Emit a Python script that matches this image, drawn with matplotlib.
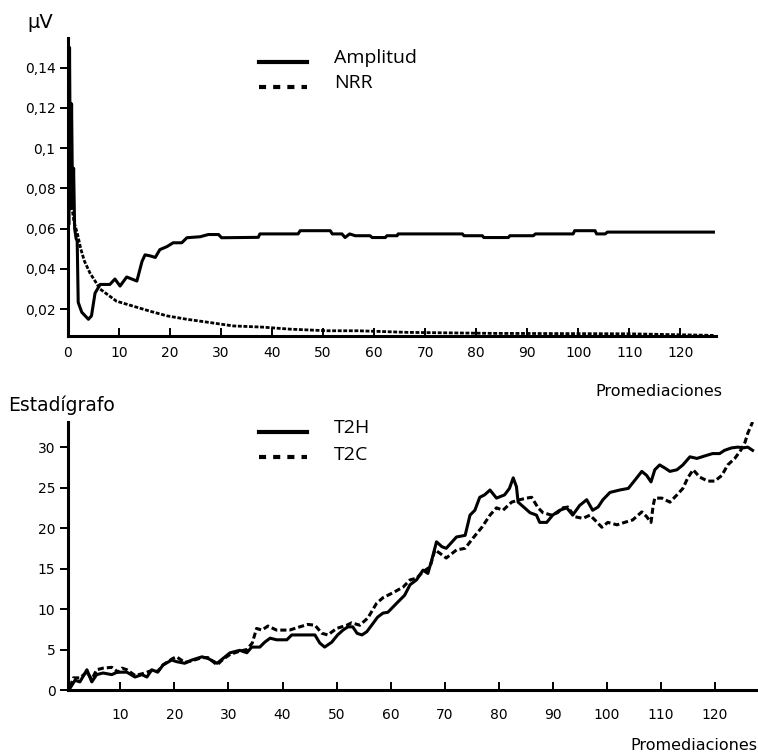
import matplotlib.pyplot as plt
from matplotlib.lines import Line2D

# Datos: panel superior (Amplitud y NRR en microvoltios)
amp_x = [0, 0.15, 0.3, 0.5, 0.7, 0.9, 1.1, 1.3, 1.6, 1.8, 2.0, 2.7, 4.0, 4.6, 5.3,
         6.3, 8.2, 9.2, 10.2, 11.5, 12.5, 13.5, 14.5, 15.1, 16.1, 17.1, 18.0,
         19.4, 20.6, 22.3, 23.3, 25.9, 27.5, 29.5, 30.1, 37.3, 37.6, 45.1, 45.5,
         51.4, 51.8, 53.7, 54.3, 55.2, 56.3, 59.2, 59.6, 62.2, 62.5, 64.5, 64.7,
         77.3, 77.6, 81.2, 81.5, 86.3, 86.6, 91.2, 91.6, 99.0, 99.3, 103.3, 103.6,
         105.3, 105.7, 126.5]
amp_y = [0.155, 0.062, 0.150, 0.070, 0.122, 0.072, 0.090, 0.060, 0.055, 0.054,
         0.0234, 0.0185, 0.015, 0.0167, 0.028, 0.0323, 0.0323, 0.035, 0.0315,
         0.036, 0.035, 0.034, 0.0437, 0.047, 0.0465, 0.0457, 0.0496, 0.0511,
         0.053, 0.053, 0.0555, 0.056, 0.0571, 0.0571, 0.0555, 0.0557, 0.0574,
         0.0574, 0.059, 0.059, 0.0574, 0.0574, 0.0556, 0.0574, 0.0565, 0.0565,
         0.0556, 0.0556, 0.0565, 0.0565, 0.0574, 0.0574, 0.0565, 0.0565, 0.0556,
         0.0556, 0.0565, 0.0565, 0.0574, 0.0574, 0.059, 0.059, 0.0574, 0.0574,
         0.0583, 0.0583]

nrr_x = [0.4, 0.8, 1.2, 1.8, 2.5, 3.2, 4.3, 6.3, 9.5, 12.8, 16.1, 19.4, 23.3,
         27.2, 32.4, 38.2, 43.5, 50.8, 56.7, 60.6, 66.5, 83.3, 109.6, 126.5]
nrr_y = [0.085, 0.070, 0.063, 0.058, 0.050, 0.044, 0.038, 0.030, 0.024, 0.0215,
         0.019, 0.0167, 0.015, 0.0136, 0.0117, 0.0111, 0.0101, 0.0093, 0.0093,
         0.009, 0.0085, 0.008, 0.0078, 0.0070]

top_yticks = [0.02, 0.04, 0.06, 0.08, 0.10, 0.12, 0.14]
top_ylabels = ['0,02', '0,04', '0,06', '0,08', '0,1', '0,12', '0,14']
top_xticks = [0, 10, 20, 30, 40, 50, 60, 70, 80, 90, 100, 110, 120]

# Datos: panel inferior (estadigrafos T2H y T2C)
t2h_x = [0.7, 1.6, 2.5, 3.8, 4.7, 5.6, 6.8, 8.4, 9.4, 11.2, 12.7, 14.0, 14.9,
         15.8, 16.9, 17.9, 19.5, 20.4, 21.9, 23.2, 25.1, 26.2, 27.9, 29.0, 30.3,
         32.1, 33.4, 34.3, 35.8, 36.7, 37.7, 38.9, 40.8, 41.7, 46.0, 46.9, 47.8,
         49.1, 50.2, 51.2, 52.1, 53.0, 53.8, 54.7, 55.6, 56.5, 57.6, 58.6, 59.5,
         61.1, 62.6, 63.6, 64.8, 66.0, 66.9, 67.6, 68.5, 69.5, 70.3, 72.2, 73.8,
         74.7, 75.6, 76.5, 77.4, 78.4, 79.6, 81.1, 82.0, 82.7, 83.3, 83.6, 84.8,
         85.8, 87.0, 87.6, 88.9, 90.0, 91.3, 92.6, 93.7, 95.0, 96.3, 97.4, 98.4,
         99.3, 100.6, 102.4, 104.0, 105.2, 106.5, 107.4, 108.2, 108.9, 109.8,
         110.8, 111.7, 113.0, 114.1, 115.4, 116.7, 118.1, 119.6, 120.9, 121.8,
         123.1, 124.3, 125.2, 126.1, 127.0]
t2h_y = [0.25, 1.2, 1.0, 2.5, 1.0, 1.9, 2.1, 1.9, 2.2, 2.2, 1.6, 1.9, 1.6,
         2.5, 2.2, 3.1, 3.7, 3.5, 3.3, 3.7, 4.1, 3.9, 3.3, 3.9, 4.6,
         4.9, 4.6, 5.3, 5.3, 5.9, 6.4, 6.2, 6.2, 6.8, 6.8, 5.8, 5.3,
         5.9, 6.8, 7.4, 7.8, 7.8, 7.0, 6.8, 7.2, 8.0, 9.0, 9.5, 9.6,
         10.7, 11.7, 13.0, 13.6, 14.8, 14.4, 16.0, 18.3, 17.7, 17.5, 18.9, 19.1,
         21.6, 22.2, 23.8, 24.1, 24.7, 23.7, 24.1, 24.9, 26.2, 25.1, 23.2, 22.5,
         21.9, 21.6, 20.7, 20.7, 21.6, 22.2, 22.5, 21.6, 22.8, 23.5, 22.2, 22.6,
         23.5, 24.4, 24.7, 24.9, 25.9, 27.0, 26.5, 25.7, 27.2, 27.8,
         27.4, 27.0, 27.2, 27.8, 28.8, 28.6, 28.9, 29.2, 29.2, 29.6,
         29.9, 30.0, 29.9, 30.0, 29.6]

t2c_x = [0.7, 1.3, 2.5, 3.8, 4.7, 5.6, 6.8, 8.4, 9.6, 10.3, 11.2, 12.7, 14.0,
         15.8, 16.9, 17.9, 19.7, 20.4, 21.9, 23.2, 25.1, 26.2, 27.9, 29.0, 30.3,
         32.1, 33.4, 34.4, 35.2, 36.2, 37.3, 38.9, 41.3, 43.2, 44.7, 46.0, 47.3,
         48.4, 50.0, 51.9, 52.8, 54.3, 55.8, 57.4, 58.6, 60.4, 62.3, 63.6, 64.8,
         66.0, 67.3, 68.2, 69.1, 70.3, 72.2, 73.8, 75.3, 76.9, 78.4, 79.6, 80.8,
         82.4, 83.9, 85.2, 86.1, 87.3, 88.2, 89.8, 90.9, 91.9, 92.8, 94.1, 95.6,
         96.9, 97.8, 99.1, 100.2, 101.9, 103.3, 104.8, 106.5, 107.4, 108.2,
         108.6, 108.9, 110.2, 111.7, 113.0, 114.1, 115.0, 116.0, 117.2, 118.7,
         120.0, 121.3, 122.4, 123.7, 124.8, 125.6, 126.1, 127.0]
t2c_y = [0.4, 1.5, 1.5, 2.2, 1.3, 2.5, 2.7, 2.8, 2.2, 2.7, 2.5, 1.8, 2.0,
         2.4, 2.3, 3.1, 3.9, 4.1, 3.4, 3.6, 4.0, 4.0, 3.1, 3.8, 4.4,
         4.8, 5.0, 5.8, 7.6, 7.4, 7.9, 7.4, 7.4, 7.8, 8.1, 8.0, 7.0,
         6.8, 7.6, 8.0, 8.3, 8.0, 8.9, 10.7, 11.4, 12.0, 12.7, 13.6, 13.8,
         14.6, 15.2, 17.3, 16.9, 16.3, 17.3, 17.5, 18.8, 20.1, 21.6, 22.5, 22.2,
         23.2, 23.5, 23.7, 23.8, 22.5, 21.9, 21.6, 21.9, 22.5, 22.6, 21.4, 21.2,
         21.6, 21.0, 20.1, 20.7, 20.4, 20.7, 21.0, 22.0, 21.4, 20.7,
         22.8, 23.7, 23.7, 23.2, 24.1, 24.9, 26.2, 27.2, 26.3, 25.8,
         25.8, 26.5, 27.8, 28.6, 29.6, 30.6, 31.7, 33.1]

bot_yticks = [0, 5, 10, 15, 20, 25, 30]
bot_xticks = [10, 20, 30, 40, 50, 60, 70, 80, 90, 100, 110, 120]

W, H = 758, 753


def fx(px):
    return px / W


def fy(py):
    return 1 - py / H


def style_axes(ax):
    for side in ['top', 'right']:
        ax.spines[side].set_visible(False)
    for side in ['left', 'bottom']:
        ax.spines[side].set_linewidth(2.2)
        ax.spines[side].set_zorder(5)
    ax.tick_params(axis='y', direction='out', length=6, width=1.4,
                   pad=3, labelsize=10)
    ax.tick_params(axis='x', direction='in', length=6, width=1.4,
                   labelsize=10)


def main():
    plt.rcParams['font.family'] = ['DejaVu Sans']
    fig = plt.figure(figsize=(W / 100, H / 100), dpi=100)

    # Panel superior
    ax1 = fig.add_axes([fx(68), fy(336), fx(648), 298 / H])
    ax1.plot(amp_x, amp_y, color='black', lw=2.2)
    ax1.plot(nrr_x, nrr_y, color='black', lw=2.0, dashes=(1.4, 0.6))
    ax1.set_xlim(0, 127)
    ax1.set_ylim(0.0067, 0.1547)
    ax1.set_xticks(top_xticks)
    ax1.set_yticks(top_yticks)
    ax1.set_yticklabels(top_ylabels)
    style_axes(ax1)
    ax1.tick_params(axis='x', pad=7)

    # Panel inferior
    ax2 = fig.add_axes([fx(68), fy(690), fx(690), 268 / H])
    ax2.plot(t2h_x, t2h_y, color='black', lw=2.2)
    ax2.plot(t2c_x, t2c_y, color='black', lw=2.2, dashes=(2.0, 1.0))
    ax2.set_xlim(0.3, 128)
    ax2.set_ylim(0, 33.1)
    ax2.set_xticks(bot_xticks)
    ax2.set_yticks(bot_yticks)
    style_axes(ax2)
    ax2.tick_params(axis='x', pad=13)

    # Textos de ejes
    fig.text(fx(27), fy(22), 'µV', fontsize=14, va='center', ha='left')
    fig.text(fx(722), fy(391), 'Promediaciones', fontsize=11.5,
             va='center', ha='right')
    fig.text(fx(8), fy(405), 'Estadígrafo', fontsize=13.5,
             va='center', ha='left')
    fig.text(fx(757), fy(746), 'Promediaciones', fontsize=11.5,
             va='center', ha='right')

    # Leyendas dibujadas a mano
    legend_items = [
        (61.7, 63, 'Amplitud', 'solid'),
        (87.3, 88, 'NRR', 'dash'),
        (431.7, 433, 'T2H', 'solid'),
        (457.3, 460, 'T2C', 'dash'),
    ]
    for ly, ty, label, kind in legend_items:
        line = Line2D([fx(259), fx(307)], [fy(ly), fy(ly)],
                      transform=fig.transFigure, color='black', lw=3.0)
        if kind == 'dash':
            line.set_dashes((1.7, 1.7))
        fig.add_artist(line)
        fig.text(fx(334), fy(ty), label, fontsize=14, va='baseline',
                 ha='left', family=['Open Sans', 'DejaVu Sans'])

    plt.savefig('out.png', dpi=100)


if __name__ == '__main__':
    main()
